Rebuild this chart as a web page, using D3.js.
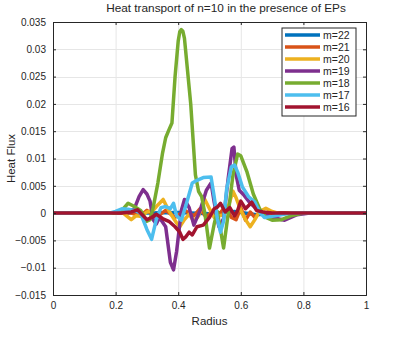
<!DOCTYPE html>
<html>
<head>
<meta charset="utf-8">
<script src="https://cdn.jsdelivr.net/npm/d3@7"></script>
<style>
  body { margin: 0; background: #fff; }
  svg { display: block; font-family: "Liberation Sans", Arial, sans-serif; }
</style>
</head>
<body>
<script>
// radius / heat flux samples, one array per poloidal mode
const m22 = [[0,0],[0.3,0],[0.4,0.0001],[0.5,-0.0001],[0.58,0.0003],[0.65,-0.0003],[0.72,0],[1,0]];
const m21 = [[0,0],[0.25,0],[0.28,-0.0005],[0.30,0.0005],[0.33,-0.0008],[0.36,0.0005],[0.39,-0.0008],
  [0.42,0.0005],[0.45,-0.0005],[0.47,0.0008],[0.49,-0.0008],[0.51,0.0005],[0.53,-0.0003],[0.55,0.0012],
  [0.57,-0.0008],[0.585,-0.0012],[0.60,0.001],[0.615,-0.0013],[0.63,0.0002],[0.645,-0.0008],[0.66,0.0003],
  [0.68,-0.0003],[0.72,0],[1,0]];
const m20 = [[0,0],[0.2,0],[0.22,0.0002],[0.235,-0.0005],[0.25,-0.0012],[0.265,-0.0005],[0.28,-0.0006],
  [0.30,0.0002],[0.32,0.0005],[0.335,0.0015],[0.352,0.0025],[0.365,0.001],[0.38,-0.0005],[0.395,-0.0018],
  [0.405,-0.0025],[0.42,-0.0012],[0.435,-0.0002],[0.45,-0.0015],[0.465,-0.0005],[0.485,0.0025],[0.50,0.0008],
  [0.515,-0.0008],[0.53,-0.0005],[0.545,-0.0003],[0.56,0.0012],[0.575,0.004],[0.585,0.0028],[0.60,0.0005],
  [0.615,-0.0012],[0.63,-0.0025],[0.645,-0.0012],[0.66,0.0003],[0.68,0.0009],[0.70,0.0003],[0.73,-0.0002],
  [0.76,0],[1,0]];
const m19 = [[0,0],[0.2,0],[0.24,0.0003],[0.26,0.0008],[0.275,0.003],[0.288,0.0043],[0.30,0.0035],
  [0.31,0.0022],[0.32,-0.0012],[0.33,-0.002],[0.34,-0.0008],[0.36,-0.0025],[0.375,-0.009],[0.385,-0.0104],
  [0.395,-0.007],[0.41,0.0005],[0.42,0.0025],[0.435,0.001],[0.45,-0.0022],[0.47,0.0005],[0.49,0.0042],
  [0.505,0.0055],[0.515,0.002],[0.53,-0.0025],[0.545,-0.001],[0.56,0.0065],[0.572,0.0118],[0.578,0.0121],
  [0.585,0.007],[0.595,0.0042],[0.61,0.0033],[0.63,0.0018],[0.66,0.0003],[0.70,-0.0008],[0.74,-0.0013],
  [0.78,-0.0003],[0.82,0],[1,0]];
const m18 = [[0,0],[0.2,0],[0.22,0.0005],[0.24,0.0018],[0.26,0.0012],[0.28,0.0005],[0.30,-0.0015],
  [0.31,-0.0012],[0.32,0.001],[0.335,0.0055],[0.35,0.011],[0.36,0.0138],[0.37,0.0152],[0.38,0.0165],
  [0.39,0.025],[0.40,0.0315],[0.405,0.0332],[0.41,0.0336],[0.415,0.0333],[0.42,0.032],[0.44,0.02],
  [0.455,0.007],[0.465,0.004],[0.475,0.003],[0.485,0],[0.50,-0.0064],[0.515,-0.002],[0.525,0.0003],
  [0.535,-0.003],[0.545,-0.0064],[0.56,0],[0.575,0.007],[0.59,0.0108],[0.60,0.0105],[0.62,0.0075],
  [0.64,0.0035],[0.66,0.0008],[0.68,-0.0008],[0.70,-0.0013],[0.73,-0.0012],[0.76,-0.0005],[0.80,0],[1,0]];
const m17 = [[0,0],[0.18,0],[0.2,0.0003],[0.22,0.0008],[0.24,0.0007],[0.26,0.0005],[0.28,0],[0.29,-0.0015],
  [0.30,-0.003],[0.315,-0.0048],[0.33,-0.0012],[0.345,0.001],[0.36,0.0012],[0.375,0.0008],[0.385,0.0018],
  [0.395,-0.0005],[0.41,-0.0013],[0.425,0.0015],[0.445,0.0055],[0.46,0.006],[0.48,0.0065],[0.505,0.0066],
  [0.515,0.003],[0.525,-0.001],[0.535,-0.0035],[0.545,-0.0015],[0.555,0.0045],[0.57,0.0085],[0.58,0.0088],
  [0.59,0.0075],[0.605,0.0048],[0.625,0.003],[0.645,0.002],[0.66,0.0002],[0.675,-0.0008],[0.70,-0.0006],
  [0.73,-0.0003],[0.76,0],[1,0]];
const m16 = [[0,0],[0.22,0],[0.25,0.0002],[0.27,0.0006],[0.285,-0.0003],[0.30,-0.0012],[0.315,-0.0008],
  [0.33,-0.0002],[0.35,-0.001],[0.37,-0.0015],[0.39,-0.0025],[0.405,-0.0035],[0.415,-0.0048],[0.425,-0.0043],
  [0.435,-0.0035],[0.445,-0.004],[0.46,-0.0025],[0.48,-0.0022],[0.50,-0.0008],[0.515,0.0008],[0.525,0.0011],
  [0.535,0.0018],[0.55,0.0002],[0.565,0.001],[0.58,-0.0005],[0.59,0.0005],[0.60,0.0022],[0.615,0.0008],
  [0.635,0.002],[0.65,0.0005],[0.67,0.0002],[0.70,0],[1,0]];

const modeLabels = ["m=22", "m=21", "m=20", "m=19", "m=18", "m=17", "m=16"];
const modeColors = ["#0072BD", "#D95319", "#EDB120", "#7E2F8E", "#77AC30", "#4DBEEE", "#A2142F"];
const modeData = [m22, m21, m20, m19, m18, m17, m16];

const xTicks = [0, 0.2, 0.4, 0.6, 0.8, 1];
const yTicks = [-0.015, -0.01, -0.005, 0, 0.005, 0.01, 0.015, 0.02, 0.025, 0.03, 0.035];

const width = 406, height = 342;
const margin = {top: 22, right: 40, bottom: 47, left: 53};
const ink = "#262626";

const svg = d3.select("body").append("svg")
    .attr("width", width)
    .attr("height", height);

const x = d3.scaleLinear().domain([0, 1]).range([margin.left, width - margin.right]);
const y = d3.scaleLinear().domain([-0.015, 0.035]).range([height - margin.bottom, margin.top]);

// grid
const grid = svg.append("g").attr("stroke", "#e6e6e6").attr("stroke-width", 1);
grid.selectAll(".gx").data(xTicks.slice(1, -1)).join("line")
    .attr("x1", d => x(d) + 0.5).attr("x2", d => x(d) + 0.5)
    .attr("y1", y.range()[1]).attr("y2", y.range()[0]);
grid.selectAll(".gy").data(yTicks.slice(1, -1)).join("line")
    .attr("y1", d => Math.round(y(d)) + 0.5).attr("y2", d => Math.round(y(d)) + 0.5)
    .attr("x1", x.range()[0]).attr("x2", x.range()[1]);

// curves
svg.append("defs").append("clipPath").attr("id", "clip")
  .append("rect")
    .attr("x", x.range()[0]).attr("y", y.range()[1])
    .attr("width", x.range()[1] - x.range()[0])
    .attr("height", y.range()[0] - y.range()[1]);

const line = d3.line().x(d => x(d[0])).y(d => y(d[1]));

svg.append("g").attr("clip-path", "url(#clip)")
  .selectAll("path").data(modeData).join("path")
    .attr("d", line)
    .attr("fill", "none")
    .attr("stroke", (d, i) => modeColors[i])
    .attr("stroke-width", 3.5)
    .attr("stroke-linejoin", "round");

// axes (ticks pointing inward, box on)
const fmt = d => d3.format("")(+d.toFixed(3));
const xAxis = d3.axisBottom(x).tickValues(xTicks).tickSize(-3).tickPadding(7).tickFormat(fmt);
const yAxis = d3.axisLeft(y).tickValues(yTicks).tickSize(-3).tickPadding(7).tickFormat(fmt);

const gx = svg.append("g").attr("transform", `translate(0,${y.range()[0]})`).call(xAxis);
const gy = svg.append("g").attr("transform", `translate(${x.range()[0]},0)`).call(yAxis);
const gxTop = svg.append("g").attr("transform", `translate(0,${y.range()[1]})`)
    .call(d3.axisTop(x).tickValues(xTicks).tickSize(-3).tickFormat(""));
const gyRight = svg.append("g").attr("transform", `translate(${x.range()[1]},0)`)
    .call(d3.axisRight(y).tickValues(yTicks).tickSize(-3).tickFormat(""));

[gx, gy, gxTop, gyRight].forEach(g => {
  g.select(".domain").attr("stroke", ink);
  g.selectAll(".tick line").attr("stroke", ink);
  g.selectAll(".tick text").attr("fill", ink).style("font-size", "10px")
      .style("font-family", "'Liberation Sans', Arial, sans-serif");
});

// labels
svg.append("text")
    .attr("x", 226).attr("y", 12)
    .attr("text-anchor", "middle")
    .attr("fill", ink)
    .style("font-size", "11.8px")
    .text("Heat transport of n=10 in the presence of EPs");

svg.append("text")
    .attr("x", (x.range()[0] + x.range()[1]) / 2).attr("y", 325)
    .attr("text-anchor", "middle")
    .attr("fill", ink)
    .style("font-size", "11.5px")
    .text("Radius");

svg.append("text")
    .attr("transform", `translate(15,${(y.range()[0] + y.range()[1]) / 2}) rotate(-90)`)
    .attr("text-anchor", "middle")
    .attr("fill", ink)
    .style("font-size", "11.5px")
    .text("Heat Flux");

// legend
const legend = svg.append("g").attr("transform", "translate(282,28)");
legend.append("rect")
    .attr("width", 74).attr("height", 88)
    .attr("fill", "#fff")
    .attr("stroke", ink)
    .attr("stroke-width", 1);

const rows = legend.selectAll(".row").data(modeLabels).join("g")
    .attr("transform", (d, i) => `translate(0,${7 + i * 12})`);
rows.append("line")
    .attr("x1", 3).attr("x2", 38)
    .attr("stroke", (d, i) => modeColors[i])
    .attr("stroke-width", 3.5);
rows.append("text")
    .attr("x", 41).attr("y", 3.5)
    .attr("fill", ink)
    .style("font-size", "10.5px")
    .text(d => d);
</script>
</body>
</html>
